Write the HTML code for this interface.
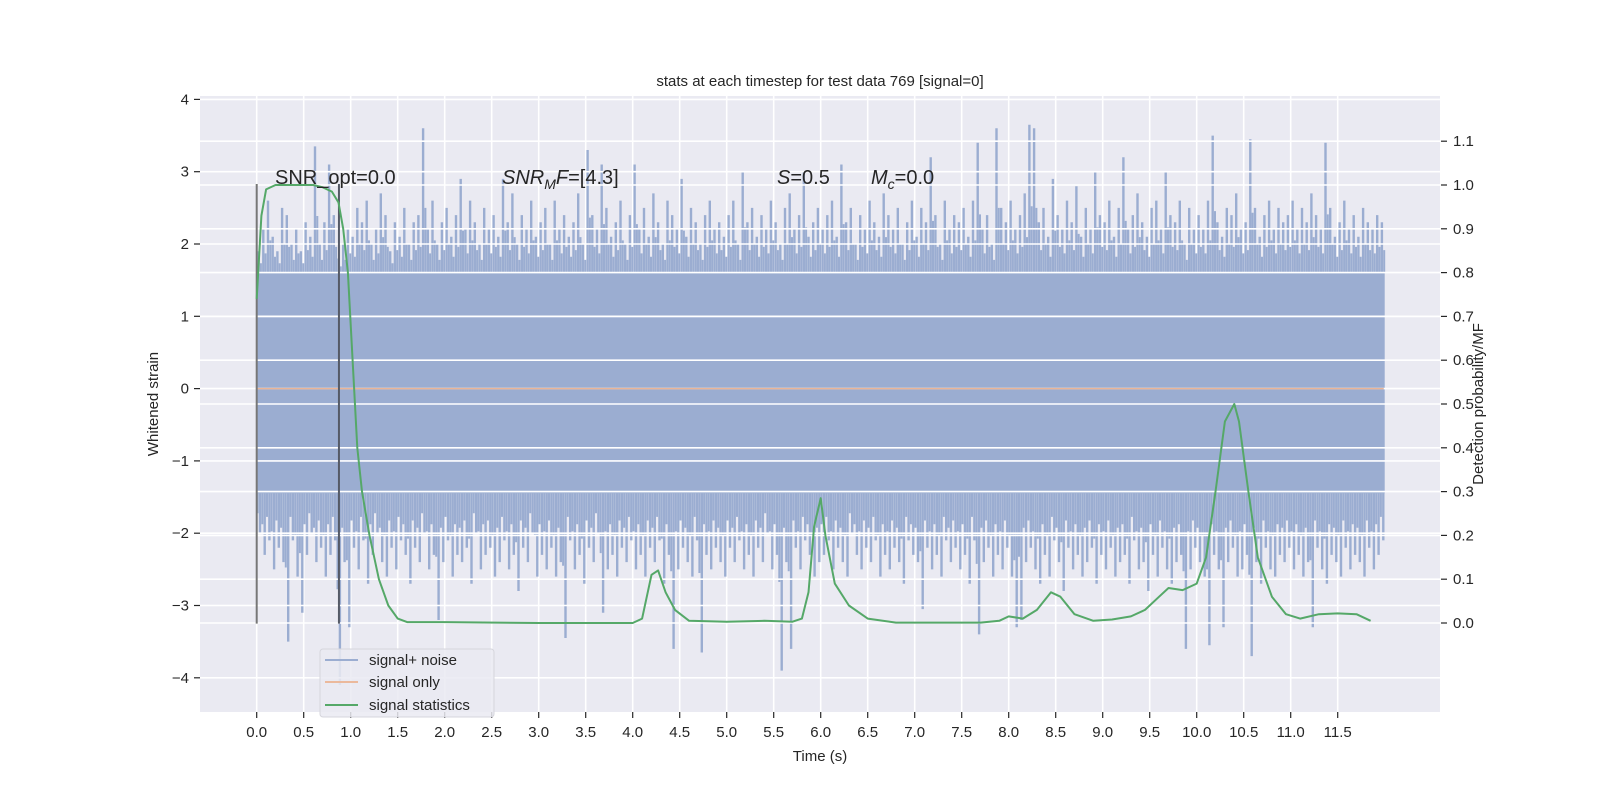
<!DOCTYPE html>
<html><head><meta charset="utf-8"><style>
body{margin:0;background:#fff;}
svg text{font-family:"Liberation Sans","DejaVu Sans",sans-serif;fill:#262626;}
</style></head><body>
<svg id="chart" width="1600" height="800" xmlns="http://www.w3.org/2000/svg"></svg>
<script>
const xTicks=[0,0.5,1,1.5,2,2.5,3,3.5,4,4.5,5,5.5,6,6.5,7,7.5,8,8.5,9,9.5,10,10.5,11,11.5];
const xTickLabels=["0.0","0.5","1.0","1.5","2.0","2.5","3.0","3.5","4.0","4.5","5.0","5.5","6.0","6.5","7.0","7.5","8.0","8.5","9.0","9.5","10.0","10.5","11.0","11.5"];
const yLeftTicks=[4,3,2,1,0,-1,-2,-3,-4];
const yLeftLabels=["4","3","2","1","0","\u22121","\u22122","\u22123","\u22124"];
const yRightTicks=[0,0.1,0.2,0.3,0.4,0.5,0.6,0.7,0.8,0.9,1.0,1.1];
const yRightLabels=["0.0","0.1","0.2","0.3","0.4","0.5","0.6","0.7","0.8","0.9","1.0","1.1"];
const noiseStep=0.05;
const bandTop=1.6;
const bandBottom=-1.45;
const noiseUpper=[
1.9,2.2,2.6,2.1,1.9,2.5,2.4,2.0,2.2,1.9,2.3,2.1,3.35,2.0,2.3,3.1,2.4,1.8,2.0,2.2,
2.1,2.5,2.3,2.6,2.0,2.2,2.7,2.4,1.9,2.3,2.1,2.5,2.0,2.3,2.4,3.6,2.2,2.6,2.0,2.3,
2.5,2.1,2.4,2.9,2.2,2.6,2.3,2.0,2.5,2.2,2.4,2.1,2.9,2.3,2.7,2.0,2.4,2.2,2.6,2.1,
2.3,2.5,2.0,2.6,2.2,2.4,2.1,2.3,2.7,2.0,3.3,2.4,2.2,3.1,2.5,2.1,2.3,2.6,2.0,2.4,
3.1,2.2,2.5,2.1,2.7,2.3,2.0,2.6,2.4,2.2,2.9,2.1,2.5,2.3,2.0,2.4,2.6,2.2,2.3,2.1,
2.4,2.6,2.0,3.0,2.3,2.5,2.1,2.4,2.2,2.6,2.3,2.0,2.5,2.7,2.2,2.4,3.0,2.1,2.3,2.5,
2.2,2.4,2.6,2.1,3.1,2.3,2.5,2.0,2.4,2.2,2.6,2.3,2.1,2.7,2.4,2.2,2.5,2.0,2.3,2.6,
2.1,2.5,2.3,3.2,2.4,2.0,2.6,2.2,2.4,2.3,2.5,2.1,2.6,3.4,2.2,2.4,2.0,3.6,2.5,2.3,
2.6,2.2,2.4,2.7,3.65,3.6,2.3,2.5,2.1,2.9,2.4,2.2,2.6,2.3,2.8,2.1,2.5,2.2,3.0,2.4,
2.3,2.6,2.1,2.5,3.2,2.2,2.4,2.7,2.3,2.1,2.5,2.6,2.2,3.0,2.4,2.3,2.6,2.0,2.5,2.2,
2.4,2.2,2.6,3.5,2.3,2.1,2.5,2.4,2.7,2.2,2.3,3.45,2.5,2.1,2.4,2.6,2.2,2.5,2.3,2.4,
2.6,2.2,2.5,2.3,2.7,2.4,2.2,3.4,2.5,2.1,2.3,2.6,2.2,2.4,2.1,2.5,2.3,2.2,2.4,2.3];
const noiseLower=[
-2.0,-2.3,-2.1,-2.5,-2.2,-2.4,-3.5,-2.1,-2.6,-3.1,-2.3,-2.0,-2.4,-2.2,-2.6,-2.3,-2.1,-4.1,-2.4,-3.3,
-2.2,-2.5,-2.1,-2.7,-2.3,-2.0,-2.4,-2.6,-2.2,-2.5,-2.1,-2.3,-2.7,-2.2,-2.4,-2.0,-2.5,-2.3,-3.2,-2.4,
-2.1,-2.6,-2.3,-2.4,-2.2,-2.7,-2.0,-2.5,-2.3,-2.2,-2.6,-2.4,-2.1,-2.5,-2.3,-2.8,-2.2,-2.4,-2.0,-2.6,
-2.3,-2.5,-2.2,-2.6,-2.4,-3.45,-2.1,-2.5,-2.3,-2.7,-2.2,-2.4,-2.0,-3.1,-2.5,-2.3,-2.6,-2.2,-2.4,-2.1,
-2.5,-2.3,-2.6,-2.2,-2.4,-2.1,-2.7,-2.3,-3.6,-2.5,-2.2,-2.4,-2.6,-2.1,-3.65,-2.3,-2.5,-2.2,-2.4,-2.6,
-2.2,-2.4,-2.1,-2.5,-2.3,-2.6,-2.2,-2.4,-2.0,-2.5,-2.3,-3.9,-2.4,-3.6,-2.2,-2.5,-2.1,-2.3,-2.6,-2.4,
-2.3,-2.1,-2.5,-2.2,-2.4,-2.6,-2.0,-2.3,-2.5,-2.2,-2.4,-2.1,-2.6,-2.3,-2.5,-2.2,-2.4,-2.7,-2.1,-2.3,
-2.4,-3.05,-2.2,-2.5,-2.3,-2.6,-2.1,-2.4,-2.2,-2.5,-2.3,-2.7,-2.1,-3.4,-2.4,-2.2,-2.6,-2.3,-2.5,-2.2,
-2.6,-3.3,-3.2,-2.4,-2.2,-2.5,-2.7,-2.3,-2.6,-2.1,-2.4,-2.8,-2.2,-2.5,-2.3,-2.6,-2.4,-2.2,-2.7,-2.3,
-2.5,-2.2,-2.6,-2.4,-2.3,-2.7,-2.1,-2.5,-2.4,-2.8,-2.3,-2.6,-2.2,-2.5,-2.7,-2.4,-2.3,-3.6,-2.5,-2.2,
-2.4,-2.6,-3.55,-2.3,-2.5,-3.3,-2.4,-2.2,-2.6,-2.5,-2.3,-3.7,-2.4,-2.7,-2.2,-2.5,-2.6,-2.3,-2.4,-2.2,
-2.5,-2.3,-2.6,-2.4,-3.3,-2.2,-2.5,-2.7,-2.3,-2.4,-2.6,-2.2,-2.5,-2.3,-2.4,-2.6,-2.2,-2.5,-2.3,-2.1];
const statTimes=[0,0.05,0.1,0.2,0.4,0.6,0.7,0.8,0.87,0.92,0.97,1.02,1.07,1.12,1.2,1.3,1.4,1.5,1.6,2.0,3.0,4.0,4.1,4.2,4.27,4.35,4.45,4.6,5.0,5.4,5.7,5.8,5.87,5.93,6.0,6.05,6.15,6.3,6.5,6.8,7.7,7.9,8.0,8.15,8.3,8.45,8.55,8.7,8.9,9.1,9.3,9.45,9.6,9.7,9.85,10.0,10.1,10.2,10.3,10.4,10.45,10.55,10.65,10.8,10.95,11.1,11.3,11.5,11.7,11.85];
const statValues=[0.74,0.93,0.99,1.0,1.0,1.0,0.995,0.985,0.96,0.9,0.8,0.6,0.4,0.3,0.2,0.1,0.04,0.01,0.002,0.002,0.0,0.0,0.01,0.11,0.12,0.07,0.03,0.005,0.003,0.005,0.003,0.01,0.07,0.22,0.285,0.2,0.09,0.04,0.01,0.001,0.001,0.005,0.015,0.01,0.03,0.07,0.06,0.02,0.005,0.008,0.015,0.03,0.06,0.08,0.075,0.09,0.15,0.3,0.46,0.5,0.46,0.3,0.15,0.06,0.02,0.01,0.02,0.022,0.02,0.005];
const markerTimes=[0,0.875];
const markerTop=2.83, markerBottom=-3.25;

const L=200,R=1440,T=96,B=712;
const X=t=>256.7+t*94;
const Y=v=>388.6-v*72.3;
const YR=p=>623-p*438;
const svg=document.getElementById('chart');
const NS='http://www.w3.org/2000/svg';
function mk(tag,attrs,parent){const e=document.createElementNS(NS,tag);for(const k in attrs)e.setAttribute(k,attrs[k]);(parent||svg).appendChild(e);return e;}

const bg=mk('rect',{x:L,y:T,width:R-L,height:B-T,fill:'#eaeaf2'});


const gx=mk('g',{});


xTicks.forEach(t=>mk('line',{x1:X(t),x2:X(t),y1:T,y2:B,stroke:'#fff','stroke-width':1.6},gx));

const noise=mk('g',{fill:'none'});


const band=mk('rect',{x:X(0),y:Y(bandTop),width:X(noiseUpper.length*noiseStep)-X(0),height:Y(bandBottom)-Y(bandTop),fill:'#9badd1'},noise);


let d='';
noiseUpper.forEach((v,i)=>{const x=X(i*noiseStep+0.02);d+=`M${x.toFixed(1)} ${Y(bandTop).toFixed(1)}V${Y(v).toFixed(1)}`;});
noiseLower.forEach((v,i)=>{const x=X(i*noiseStep+0.035);d+=`M${x.toFixed(1)} ${Y(bandBottom).toFixed(1)}V${Y(v).toFixed(1)}`;});
const sp=mk('path',{d:d,stroke:'#9badd1','stroke-width':2.4},noise);


let d2='';
noiseUpper.forEach((v,i)=>{const x=X(i*noiseStep+0.045);d2+=`M${x.toFixed(1)} ${Y(bandTop).toFixed(1)}V${Y(bandTop+(v-bandTop)*0.45).toFixed(1)}`;});
noiseLower.forEach((v,i)=>{const x=X(i*noiseStep+0.01);d2+=`M${x.toFixed(1)} ${Y(bandBottom).toFixed(1)}V${Y(bandBottom+(v-bandBottom)*0.5).toFixed(1)}`;});
const sp2=mk('path',{d:d2,stroke:'#9badd1','stroke-width':2},noise);



const gy=mk('g',{});


yLeftTicks.forEach(v=>mk('line',{x1:L,x2:R,y1:Y(v),y2:Y(v),stroke:'#fff','stroke-width':1.6},gy));
yRightTicks.forEach(v=>mk('line',{x1:L,x2:R,y1:YR(v),y2:YR(v),stroke:'#fff','stroke-width':1.6},gy));

const so=mk('line',{x1:X(0),x2:X(11.99),y1:Y(0),y2:Y(0),stroke:'#dd8452','stroke-opacity':0.6,'stroke-width':1.5});



markerTimes.forEach((t,i)=>{const m=mk('line',{x1:X(t),x2:X(t),y1:Y(markerTop),y2:Y(markerBottom),stroke:i?'#555a66':'#777','stroke-width':2});

});

const gp=mk('path',{d:statTimes.map((t,i)=>(i?'L':'M')+X(t).toFixed(1)+' '+YR(statValues[i]).toFixed(1)).join(''),fill:'none',stroke:'#55a868','stroke-width':2,'stroke-linejoin':'round'});



const xt=mk('g',{'font-size':15,'text-anchor':'middle'});


xTicks.forEach((t,i)=>{mk('line',{x1:X(t),x2:X(t),y1:B,y2:B+6,stroke:'#262626','stroke-width':1.2},xt);const e=mk('text',{x:X(t),y:B+25},xt);e.textContent=xTickLabels[i];});
const yt=mk('g',{'font-size':15,'text-anchor':'end'});


yLeftTicks.forEach((v,i)=>{mk('line',{x1:L-6,x2:L,y1:Y(v),y2:Y(v),stroke:'#262626','stroke-width':1.2},yt);const e=mk('text',{x:L-11,y:Y(v)+5},yt);e.textContent=yLeftLabels[i];});
const yr=mk('g',{'font-size':15,'text-anchor':'start'});


yRightTicks.forEach((v,i)=>{mk('line',{x1:R+1,x2:R+7,y1:YR(v),y2:YR(v),stroke:'#262626','stroke-width':1.2},yr);const e=mk('text',{x:R+13,y:YR(v)+5},yr);e.textContent=yRightLabels[i];});
</script>
<svg style="position:absolute;left:0;top:0" width="1600" height="800" xmlns="http://www.w3.org/2000/svg">
<text x="820" y="86" font-size="15" text-anchor="middle">stats at each timestep for test data 769 [signal=0]</text>
<text x="820" y="761" font-size="15" text-anchor="middle">Time (s)</text>
<text transform="translate(158,404) rotate(-90)" font-size="15" text-anchor="middle">Whitened strain</text>
<text transform="translate(1483,404) rotate(-90)" font-size="15" text-anchor="middle">Detection probability/MF</text>
<text x="275" y="184" font-size="20">SNR_opt=0.0</text>
<text x="502" y="184" font-size="20"><tspan font-style="italic">SNR</tspan><tspan font-style="italic" font-size="14" dy="5">M</tspan><tspan font-style="italic" dy="-5">F</tspan>=[4.3]</text>
<text x="777" y="184" font-size="20"><tspan font-style="italic">S</tspan>=0.5</text>
<text x="871" y="184" font-size="20"><tspan font-style="italic">M</tspan><tspan font-style="italic" font-size="14" dy="5">c</tspan><tspan dy="-5">=0.0</tspan></text>
<g>
<rect x="320" y="649" width="174" height="68" rx="3" fill="#eaeaf2" fill-opacity="0.85" stroke="#d5d5dc"/>
<line x1="325" x2="358" y1="660" y2="660" stroke="#9badd1" stroke-width="2"/>
<text x="369" y="665" font-size="15">signal+ noise</text>
<line x1="325" x2="358" y1="682" y2="682" stroke="#ebb99c" stroke-width="2"/>
<text x="369" y="687" font-size="15">signal only</text>
<line x1="325" x2="358" y1="705" y2="705" stroke="#55a868" stroke-width="2"/>
<text x="369" y="710" font-size="15">signal statistics</text>
</g>
</svg>
</body></html>
